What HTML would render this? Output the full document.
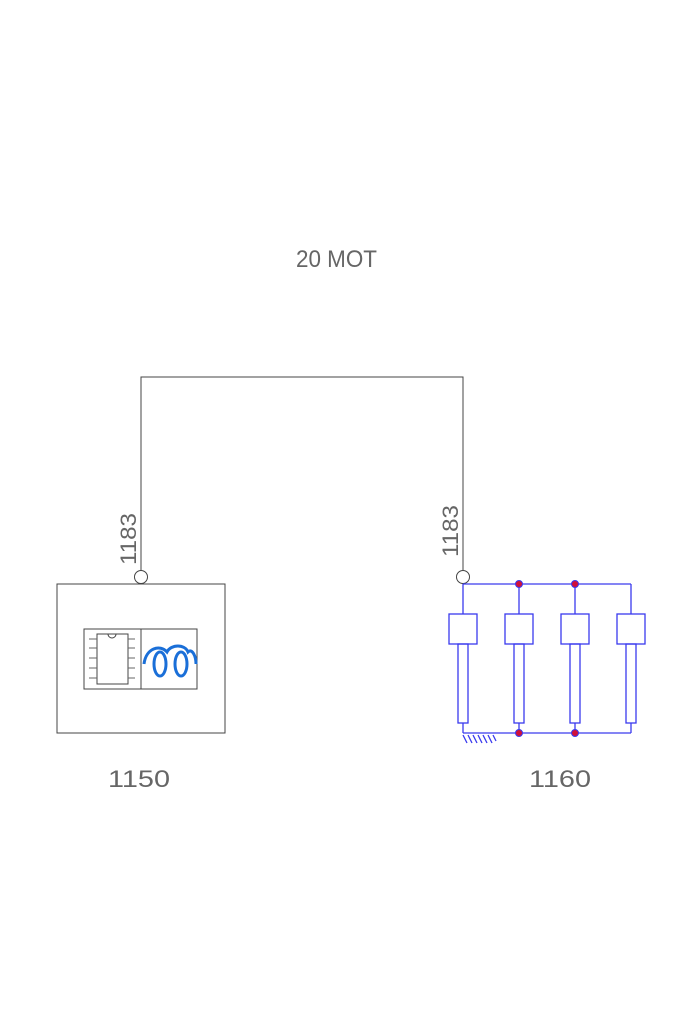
<!DOCTYPE html>
<html><head><meta charset="utf-8"><style>html,body{margin:0;padding:0;background:#fff}svg{display:block}</style></head>
<body>
<svg width="700" height="1020" viewBox="0 0 700 1020" xmlns="http://www.w3.org/2000/svg">
<g font-family="Liberation Sans, sans-serif" fill="#666" font-size="24">
<text x="296" y="267" textLength="81" lengthAdjust="spacingAndGlyphs">20 MOT</text>
<text x="108" y="787" textLength="62" lengthAdjust="spacingAndGlyphs">1150</text>
<text x="529" y="787" textLength="62" lengthAdjust="spacingAndGlyphs">1160</text>
<text transform="translate(136,565) rotate(-90)" font-size="22" textLength="52" lengthAdjust="spacingAndGlyphs">1183</text>
<text transform="translate(458,557) rotate(-90)" font-size="22" textLength="52" lengthAdjust="spacingAndGlyphs">1183</text>
</g>
<g stroke="#444" fill="none" stroke-width="1">
<polyline points="141,571 141,377 463,377 463,571"/>
<circle cx="141" cy="577" r="6.5" fill="#fff"/>
<circle cx="463" cy="577" r="6.5" fill="#fff"/>
<rect x="57" y="584" width="168" height="149"/>
<rect x="84" y="629" width="113" height="60"/>
<line x1="141" y1="629" x2="141" y2="689"/>
<rect x="97" y="634" width="31" height="50"/>
<path d="M108,634 a4,4 0 0 0 8,0"/>
<g stroke="#666">
<line x1="89" y1="639" x2="97" y2="639"/><line x1="89" y1="648" x2="97" y2="648"/><line x1="89" y1="658" x2="97" y2="658"/><line x1="89" y1="668" x2="97" y2="668"/><line x1="89" y1="678" x2="97" y2="678"/>
<line x1="128" y1="639" x2="135" y2="639"/><line x1="128" y1="648" x2="135" y2="648"/><line x1="128" y1="658" x2="135" y2="658"/><line x1="128" y1="668" x2="135" y2="668"/><line x1="128" y1="678" x2="135" y2="678"/>
</g>
</g>
<g stroke="#1a6fd8" stroke-width="3" fill="none">
<path d="M144,664 C146,648 160,644 167,652 C171,644 185,644 188,652 C192,648 196,656 196,664"/>
<ellipse cx="160" cy="664" rx="6" ry="12"/>
<ellipse cx="181" cy="664" rx="6" ry="12"/>
</g>
<g stroke="#3a3aee" stroke-width="1.3" fill="none">
<line x1="463" y1="584" x2="631" y2="584"/>
<line x1="463" y1="733" x2="631" y2="733"/>
<g id="c">
<line x1="463" y1="584" x2="463" y2="614"/>
<rect x="449" y="614" width="28" height="30"/>
<rect x="458" y="644" width="10" height="79"/>
<line x1="463" y1="723" x2="463" y2="733"/>
</g>
<use href="#c" x="56"/><use href="#c" x="112"/><use href="#c" x="168"/>
<path d="M463,735 l4,8 M468,735 l4,8 M473,735 l4,8 M478,735 l4,8 M483,735 l4,8 M488,735 l4,8 M493,735 l3,6"/>
</g>
<g fill="#d0103a" stroke="#3a3aee" stroke-width="1">
<circle cx="519" cy="584" r="3.5"/><circle cx="575" cy="584" r="3.5"/>
<circle cx="519" cy="733" r="3.5"/><circle cx="575" cy="733" r="3.5"/>
</g>
</svg>
</body></html>
